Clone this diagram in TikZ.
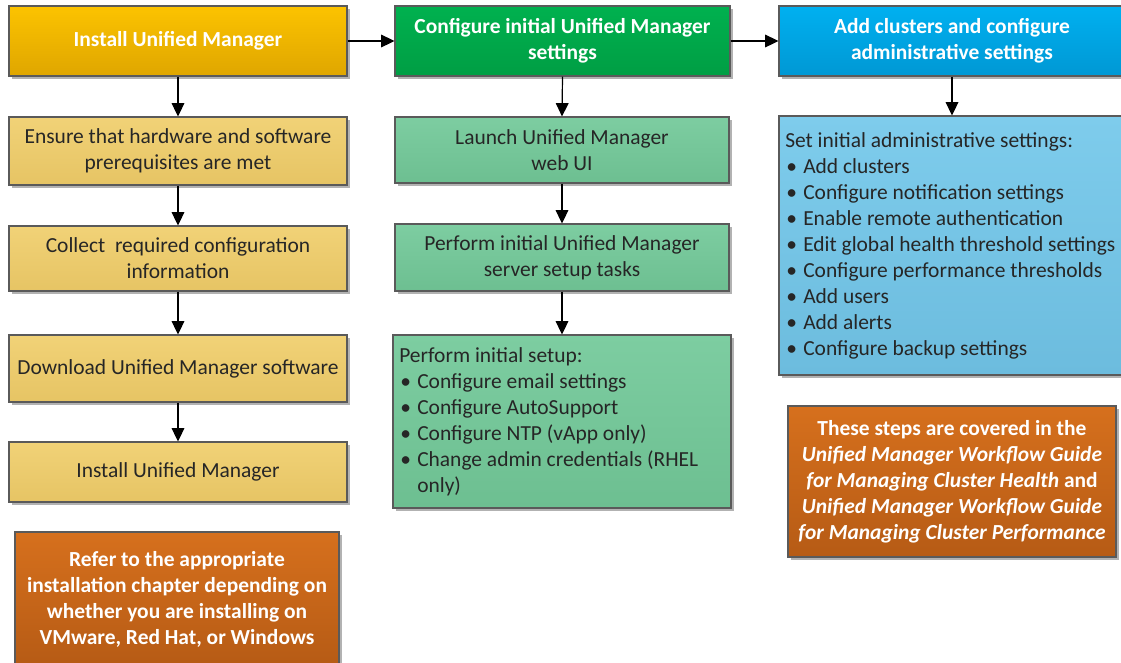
\documentclass[tikz,border=0pt]{standalone}
\usepackage{fontspec}
\setmainfont{Carlito}
\usetikzlibrary{arrows.meta,shadows}
\definecolor{goldT}{HTML}{FCC300}
\definecolor{goldB}{HTML}{DFA600}
\definecolor{lgoldT}{HTML}{F1D277}
\definecolor{lgoldB}{HTML}{E6C464}
\definecolor{grnT}{HTML}{00B14F}
\definecolor{grnB}{HTML}{009E44}
\definecolor{lgrnT}{HTML}{7DCDA1}
\definecolor{lgrnB}{HTML}{6DBF91}
\definecolor{bluT}{HTML}{00B0F0}
\definecolor{bluB}{HTML}{0098D4}
\definecolor{lbluT}{HTML}{7ECCEC}
\definecolor{lbluB}{HTML}{6CBCDE}
\definecolor{orgT}{HTML}{D6701D}
\definecolor{orgB}{HTML}{B65B15}
\definecolor{edge}{HTML}{5A5A5A}
\newcommand{\bitem}[1]{\makebox[13.5pt][l]{\hspace{0.75pt}\textbullet}#1}
\newcommand{\bfont}{\fontsize{16.1}{19.5}\selectfont}
\tikzset{
  box/.style={draw=edge, line width=0.8pt, align=center, inner sep=0pt,
    drop shadow={shadow xshift=2.5pt, shadow yshift=-2.5pt, opacity=0.3, fill=black},
    font=\bfont},
  hgold/.style={box, top color=goldT, bottom color=goldB, text=white, font=\bfont\bfseries},
  hgrn/.style={box, top color=grnT, bottom color=grnB, text=white, font=\bfont\bfseries},
  hblu/.style={box, top color=bluT, bottom color=bluB, text=white, font=\bfont\bfseries},
  gold/.style={box, top color=lgoldT, bottom color=lgoldB, text=black!85},
  grn/.style={box, top color=lgrnT, bottom color=lgrnB, text=black!85},
  blu/.style={box, top color=lbluT, bottom color=lbluB, text=black!85},
  org/.style={box, top color=orgT, bottom color=orgB, text=white, font=\bfont\bfseries},
  listtxt/.style={anchor=north west, inner sep=0pt, align=left, text=black!85, font=\bfont},
  arr/.style={-{Triangle[width=9.5pt,length=10pt]}, line width=0.9pt, black}
}
\begin{document}
\begin{tikzpicture}[x=0.75pt,y=-0.75pt]
\useasboundingbox (0,0) rectangle (1121,662);
\clip (0,0) rectangle (1121,662);
\fill[white] (0,0) rectangle (1121,662);
% header row
\node[hgold, minimum width=253.5pt, minimum height=52.5pt] (A) at (178,41) {Install Unified Manager};
\node[hgrn, minimum width=251.25pt, minimum height=52.5pt] (B) at (562.5,41) {Configure initial Unified Manager\\settings};
\node[hblu, minimum width=259.5pt, minimum height=52.5pt] (C) at (952,41) {Add clusters and configure\\administrative settings};
% left column
\node[gold, minimum width=253.5pt, minimum height=51pt] (L1) at (178,151) {Ensure that hardware and software\\prerequisites are met};
\node[gold, minimum width=253.5pt, minimum height=48.75pt] (L2) at (178,258.5) {Collect\ \ required configuration\\information};
\node[gold, minimum width=253.5pt, minimum height=50.25pt] (L3) at (178,368.5) {Download Unified Manager software};
\node[gold, minimum width=253.5pt, minimum height=45pt] (L4) at (178,472) {Install Unified Manager};
\node[org, minimum width=243pt, minimum height=100.5pt] (N1) at (177,599) {Refer to the appropriate\\installation chapter depending on\\whether you are installing on\\VMware, Red Hat, or Windows};
% middle column
\node[grn, minimum width=250.5pt, minimum height=49.5pt] (M1) at (562,150) {Launch Unified Manager\\web UI};
\node[grn, minimum width=250.5pt, minimum height=50.25pt] (M2) at (562,257.5) {Perform initial Unified Manager\\server setup tasks};
\node[grn, minimum width=253.5pt, minimum height=129.75pt] (M3) at (562,421.5) {};
\node[listtxt] (M3t) at (399,344) {\strut Perform initial setup:\\
\bitem{Configure email settings}\\
\bitem{Configure AutoSupport}\\
\bitem{Configure NTP (vApp only)}\\
\bitem{Change admin credentials (RHEL}\\
\hspace*{13.5pt}only)};
% right column
\node[blu, minimum width=259.5pt, minimum height=194.25pt] (R1) at (952,245.5) {};
\node[listtxt] (R1t) at (785,129) {\strut Set initial administrative settings:\\
\bitem{Add clusters}\\
\bitem{Configure notification settings}\\
\bitem{Enable remote authentication}\\
\bitem{Edit global health threshold settings}\\
\bitem{Configure performance thresholds}\\
\bitem{Add users}\\
\bitem{Add alerts}\\
\bitem{Configure backup settings}};
\node[org, minimum width=246pt, minimum height=113.25pt] (R2) at (952,481.5) {These steps are covered in the\\
\textit{Unified Manager Workflow Guide}\\
\textit{for Managing Cluster Health} and\\
\textit{Unified Manager Workflow Guide}\\
\textit{for Managing Cluster Performance}};
% connectors
\draw[arr] (A.east) -- (B.west);
\draw[arr] (B.east) -- (C.west);
\draw[arr] (A.south) -- (L1.north);
\draw[arr] (L1.south) -- (L2.north);
\draw[arr] (L2.south) -- (L3.north);
\draw[arr] (L3.south) -- (L4.north);
\draw[arr] (B.south) -- (M1.north);
\draw[arr] (M1.south) -- (M2.north);
\draw[arr] (M2.south) -- (M3.north);
\draw[arr] (C.south) -- (R1.north);
\end{tikzpicture}
\end{document}
